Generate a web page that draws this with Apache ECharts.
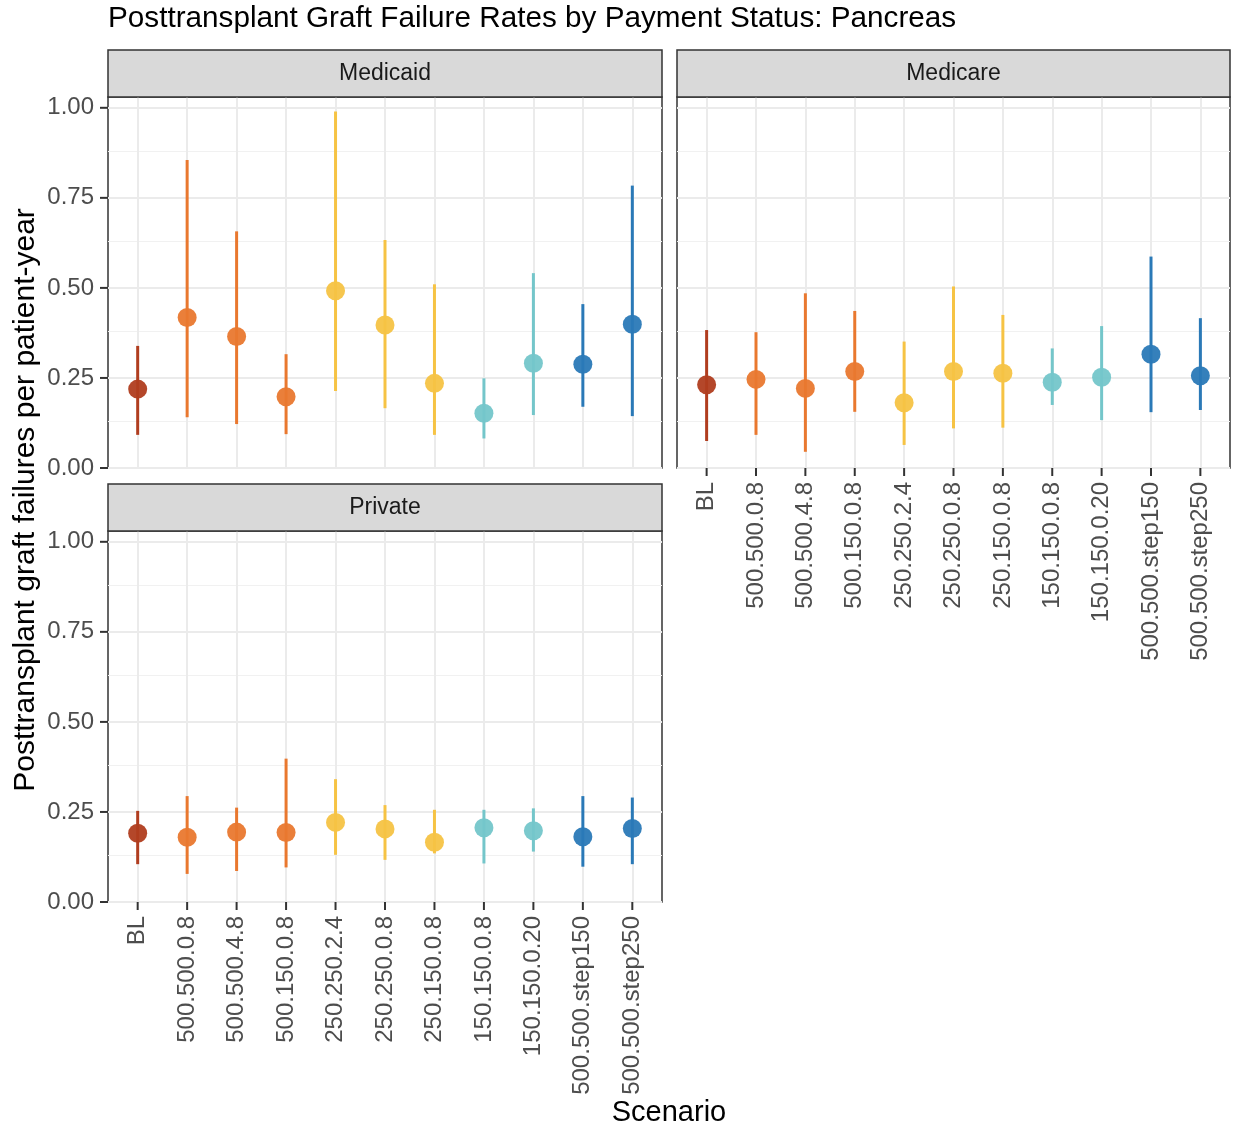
<!DOCTYPE html>
<html>
<head>
<meta charset="utf-8">
<title>Posttransplant Graft Failure Rates by Payment Status: Pancreas</title>
<script src="https://cdn.jsdelivr.net/npm/echarts@6/dist/echarts.min.js"></script>
<style>
  html, body { margin: 0; padding: 0; background: #ffffff; }
  #chart { width: 1235px; height: 1131px; }
</style>
</head>
<body>
<div id="chart"></div>
<script>
// Scenario labels shared by every panel
const scenarios = ['BL', '500.500.0.8', '500.500.4.8', '500.150.0.8', '250.250.2.4', '250.250.0.8',
  '250.150.0.8', '150.150.0.8', '150.150.0.20', '500.500.step150', '500.500.step250'];

// Rate per patient-year with its interval, by payer
const medicaidRate  = [0.219, 0.418, 0.365, 0.198, 0.492, 0.397, 0.235, 0.152, 0.291, 0.288, 0.399];
const medicaidLower = [0.092, 0.141, 0.122, 0.094, 0.214, 0.166, 0.092, 0.082, 0.147, 0.170, 0.144];
const medicaidUpper = [0.339, 0.855, 0.657, 0.316, 0.990, 0.633, 0.510, 0.249, 0.541, 0.455, 0.784];

const medicareRate  = [0.231, 0.246, 0.221, 0.268, 0.181, 0.268, 0.263, 0.238, 0.252, 0.316, 0.256];
const medicareLower = [0.075, 0.092, 0.045, 0.156, 0.064, 0.110, 0.112, 0.175, 0.133, 0.155, 0.161];
const medicareUpper = [0.383, 0.377, 0.485, 0.436, 0.351, 0.504, 0.425, 0.332, 0.394, 0.587, 0.416];

const privateRate  = [0.191, 0.180, 0.194, 0.193, 0.221, 0.203, 0.166, 0.206, 0.198, 0.181, 0.204];
const privateLower = [0.105, 0.078, 0.086, 0.096, 0.131, 0.117, 0.135, 0.107, 0.140, 0.098, 0.105];
const privateUpper = [0.253, 0.294, 0.262, 0.398, 0.341, 0.269, 0.256, 0.256, 0.260, 0.294, 0.290];

// Y axis ticks
const yTicks = [0, 0.25, 0.5, 0.75, 1.0];
const yMinor = [0.125, 0.375, 0.625, 0.875];

// Colour of each scenario family
const scenarioColors = ['#B03D1F', '#E9782F', '#E9782F', '#E9782F', '#F6C344', '#F6C344', '#F6C344',
  '#74C6CA', '#74C6CA', '#2A79B7', '#2A79B7'];

const FONT = '"Liberation Sans", Arial, sans-serif';
const AXIS_DARK = '#333333';
const TICK_LEN = 8;

const panels = [
  { name: 'Medicaid', rate: medicaidRate, lower: medicaidLower, upper: medicaidUpper,
    left: 108, top: 97, width: 554, height: 371, showX: false, showY: true },
  { name: 'Medicare', rate: medicareRate, lower: medicareLower, upper: medicareUpper,
    left: 677, top: 97, width: 553, height: 371, showX: true, showY: false },
  { name: 'Private', rate: privateRate, lower: privateLower, upper: privateUpper,
    left: 108, top: 531, width: 554, height: 371, showX: true, showY: true }
];
const STRIP_H = 47;
const idx = scenarios.map((s, i) => i);
const X_MIN = -0.6, X_MAX = scenarios.length - 0.4, Y_MIN = 0, Y_MAX = 1.03;

const grids = [], xAxes = [], yAxes = [], series = [], graphics = [];

panels.forEach((p, k) => {
  grids.push({ left: p.left, top: p.top, width: p.width, height: p.height,
    show: true, backgroundColor: '#ffffff', borderColor: AXIS_DARK, borderWidth: 1.5, z: 0 });

  xAxes.push({
    type: 'value', gridIndex: k, min: X_MIN, max: X_MAX,
    axisLine: { show: false, onZero: false },
    splitLine: { show: false },
    axisTick: { show: false, customValues: idx },
    axisLabel: {
      show: p.showX, customValues: idx, rotate: 90, margin: 14,
      color: '#4D4D4D', fontSize: 24, fontFamily: FONT,
      formatter: v => scenarios[Math.round(v)] || ''
    }
  });

  yAxes.push({
    type: 'value', gridIndex: k, min: Y_MIN, max: Y_MAX, interval: 0.25,
    axisLine: { show: false, onZero: false },
    splitLine: { show: true, lineStyle: { color: '#EBEBEB', width: 2 } },
    axisTick: { show: false, customValues: yTicks },
    axisLabel: {
      show: p.showY, customValues: yTicks, margin: 14,
      color: '#4D4D4D', fontSize: 24, fontFamily: FONT,
      formatter: v => v.toFixed(2)
    }
  });

  // background grid lines: minor horizontals and one vertical per scenario
  series.push({
    type: 'line', xAxisIndex: k, yAxisIndex: k, data: [], silent: true, z: 1,
    markLine: {
      silent: true, symbol: 'none', animation: false, z: 1,
      label: { show: false },
      data: yMinor.map(v => ({ yAxis: v, lineStyle: { color: '#F1F1F1', width: 1, type: 'solid' } }))
        .concat(idx.map(i => ({ xAxis: i, lineStyle: { color: '#EBEBEB', width: 2, type: 'solid' } })))
    }
  });

  // interval bars
  series.push({
    type: 'custom', xAxisIndex: k, yAxisIndex: k, z: 6,
    data: idx.map(i => [i, p.lower[i], p.upper[i]]),
    renderItem: (params, api) => {
      const i = api.value(0);
      const a = api.coord([i, api.value(1)]);
      const b = api.coord([i, api.value(2)]);
      return {
        type: 'line',
        shape: { x1: a[0], y1: a[1], x2: b[0], y2: b[1] },
        style: { stroke: scenarioColors[i], lineWidth: 3 }
      };
    }
  });

  // point estimates
  series.push({
    type: 'scatter', xAxisIndex: k, yAxisIndex: k, z: 7,
    symbol: 'circle', symbolSize: 19,
    data: idx.map(i => [i, p.rate[i]]),
    itemStyle: { color: params => scenarioColors[params.dataIndex], opacity: 0.95 }
  });

  // facet strip
  graphics.push({
    type: 'rect', z: 10,
    shape: { x: p.left, y: p.top - STRIP_H, width: p.width, height: STRIP_H },
    style: { fill: '#D9D9D9', stroke: AXIS_DARK, lineWidth: 1.5 }
  });
  graphics.push({
    type: 'text', z: 11,
    x: p.left + p.width / 2, y: p.top - STRIP_H / 2,
    style: { text: p.name, fill: '#1A1A1A', font: '23px ' + FONT, align: 'center', verticalAlign: 'middle' }
  });
});

// titles
graphics.push({
  type: 'text', x: 108, y: 19,
  style: { text: 'Posttransplant Graft Failure Rates by Payment Status: Pancreas',
    fill: '#000000', font: '29.7px ' + FONT, align: 'left', verticalAlign: 'middle' }
});
graphics.push({
  type: 'text', x: 26, y: 500, rotation: Math.PI / 2,
  style: { text: 'Posttransplant graft failures per patient-year',
    fill: '#000000', font: '30px ' + FONT, align: 'center', verticalAlign: 'middle' }
});
graphics.push({
  type: 'text', x: 669, y: 1113,
  style: { text: 'Scenario', fill: '#000000', font: '29px ' + FONT, align: 'center', verticalAlign: 'middle' }
});

const chart = echarts.init(document.getElementById('chart'), null, { renderer: 'canvas' });
chart.setOption({
  animation: false,
  backgroundColor: '#ffffff',
  grid: grids,
  xAxis: xAxes,
  yAxis: yAxes,
  series: series,
  graphic: graphics
});

// tick marks outside each panel, placed through each grid's own axis scales
const tickMarks = [];
panels.forEach((p, k) => {
  if (p.showX) {
    idx.forEach(i => {
      const c = chart.convertToPixel({ gridIndex: k }, [i, Y_MIN]);
      tickMarks.push({ type: 'line', z: 12, silent: true,
        shape: { x1: c[0], y1: c[1], x2: c[0], y2: c[1] + TICK_LEN },
        style: { stroke: AXIS_DARK, lineWidth: 2 } });
    });
  }
  if (p.showY) {
    yTicks.forEach(v => {
      const c = chart.convertToPixel({ gridIndex: k }, [X_MIN, v]);
      tickMarks.push({ type: 'line', z: 12, silent: true,
        shape: { x1: c[0], y1: c[1], x2: c[0] - TICK_LEN, y2: c[1] },
        style: { stroke: AXIS_DARK, lineWidth: 2 } });
    });
  }
});
chart.setOption({ graphic: graphics.concat(tickMarks) });
</script>
</body>
</html>
